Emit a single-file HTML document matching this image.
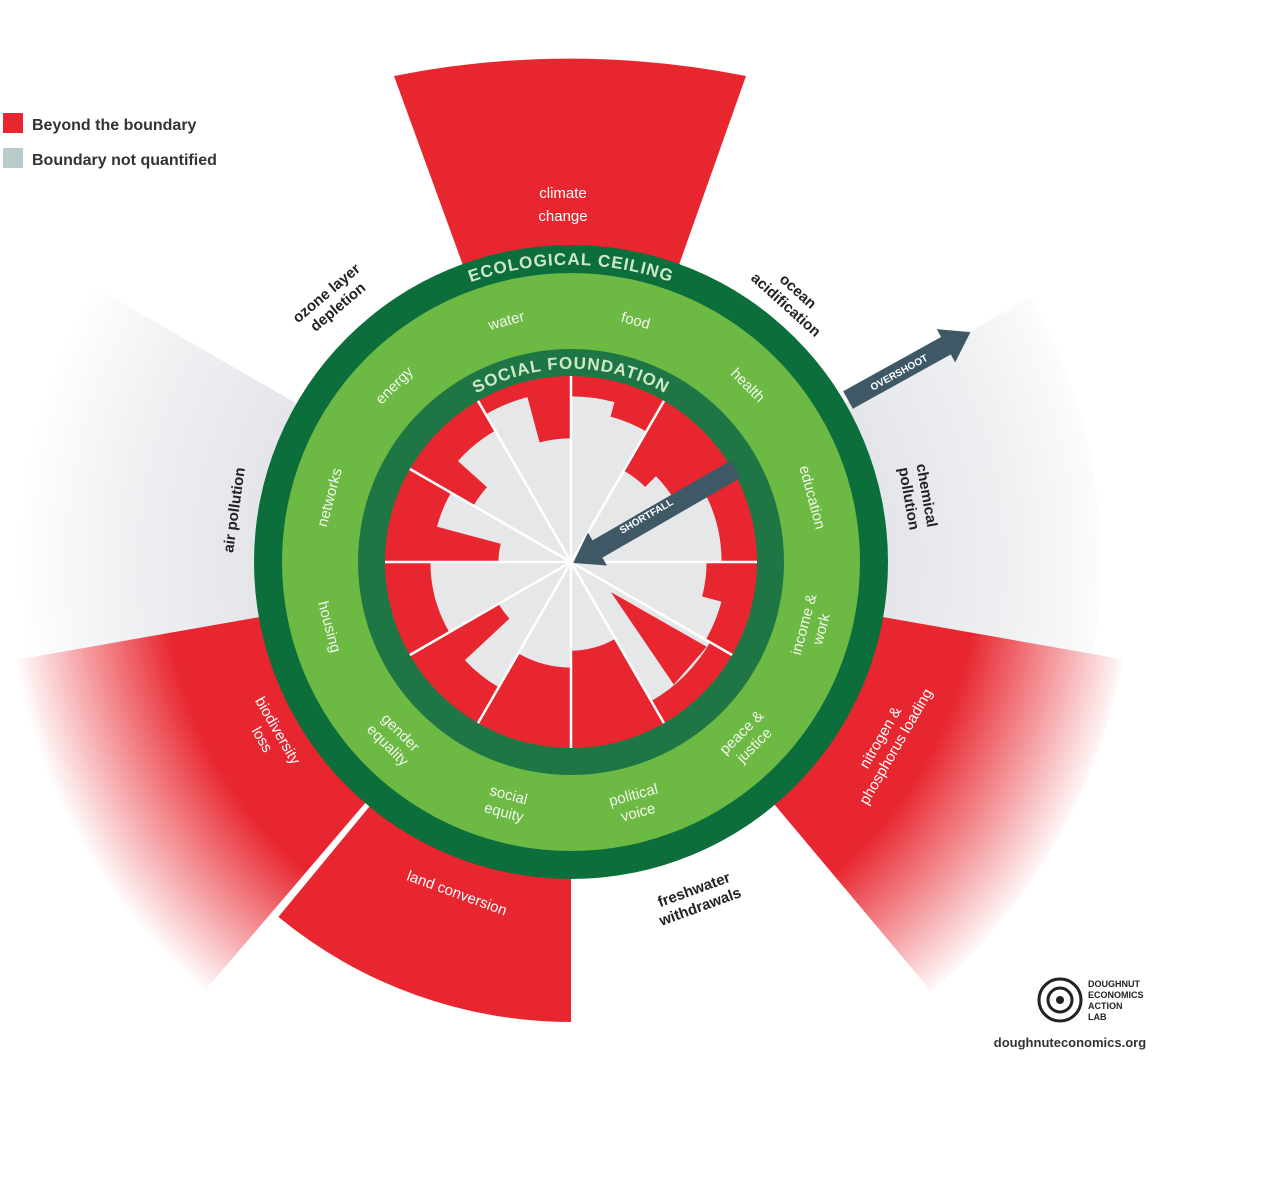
<!DOCTYPE html>
<html><head><meta charset="utf-8"><style>
html,body{margin:0;padding:0;background:#fff}
svg{display:block}
text{font-family:"Liberation Sans",sans-serif}
</style></head><body>
<svg id="s" width="1265" height="1196" viewBox="0 0 1265 1196" xmlns="http://www.w3.org/2000/svg">
<defs>
<radialGradient id="gr" gradientUnits="userSpaceOnUse" cx="571" cy="562" r="565">
<stop offset="0.72" stop-color="#e8262f"/><stop offset="1" stop-color="#e8262f" stop-opacity="0"/></radialGradient>
<radialGradient id="gg" gradientUnits="userSpaceOnUse" cx="571" cy="562" r="555">
<stop offset="0.58" stop-color="#e4e6ea"/><stop offset="0.8" stop-color="#eef0f2"/><stop offset="1" stop-color="#ffffff"/></radialGradient>
<path id="ec" d="M 314 413 A 297 297 0 0 1 828 413"/>
<path id="sf" d="M 404 465 A 193 193 0 0 1 738 465"/>
</defs>
<g id="outer"></g>
<circle cx="571" cy="562" r="317" fill="#0b6e3b"/>
<circle cx="571" cy="562" r="289" fill="#6cb944"/>
<circle cx="571" cy="562" r="213" fill="#1f7645"/>
<circle cx="571" cy="562" r="186" fill="#e8262f"/>
<g id="inner"></g>
<text font-size="17" font-weight="bold" fill="#cfe8c8" letter-spacing="1"><textPath href="#ec" startOffset="50%" text-anchor="middle">ECOLOGICAL CEILING</textPath></text>
<text font-size="17" font-weight="bold" fill="#cfe8c8" letter-spacing="1"><textPath href="#sf" startOffset="50%" text-anchor="middle">SOCIAL FOUNDATION</textPath></text>
<g id="labels" font-size="15" fill="#f2f7ee" text-anchor="middle"></g>
<g font-size="15" fill="#222" text-anchor="middle" font-weight="bold">
<text x="563" y="198" fill="#fff" font-weight="normal">climate</text><text x="563" y="221" fill="#fff" font-weight="normal">change</text>
<g transform="translate(332,300) rotate(-40)"><text y="-4">ozone layer</text><text y="14">depletion</text></g>
<g transform="translate(792,298) rotate(42)"><text y="-4">ocean</text><text y="14">acidification</text></g>
<g transform="translate(918,497) rotate(80)"><text y="-4">chemical</text><text y="14">pollution</text></g>
<g transform="translate(234,510) rotate(-82)"><text y="5">air pollution</text></g>
<g transform="translate(888,742) rotate(-60)" fill="#fff" font-weight="normal"><text y="-4">nitrogen &amp;</text><text y="14">phosphorus loading</text></g>
<g transform="translate(697,898) rotate(-20)"><text y="-4">freshwater</text><text y="14">withdrawals</text></g>
<g transform="translate(457,893) rotate(20)" fill="#fff" font-weight="normal"><text y="5">land conversion</text></g>
<g transform="translate(270,735) rotate(60)" fill="#fff" font-weight="normal"><text y="-4">biodiversity</text><text y="14">loss</text></g>
</g>
<g transform="translate(848,400) rotate(-29)" fill="#3f5866">
<rect x="0" y="-10" width="116" height="20"/><polygon points="112,-19 140,0 112,19"/>
<text x="58" y="4" font-size="10" fill="#fff" text-anchor="middle" font-weight="bold">OVERSHOOT</text></g>
<g transform="translate(736,469) rotate(150)" fill="#3f5866">
<rect x="0" y="-10" width="163" height="20"/><polygon points="160,-19 188,0 160,19"/></g>
<text x="0" y="0" transform="translate(648,519) rotate(-30)" font-size="10" fill="#fff" text-anchor="middle" font-weight="bold">SHORTFALL</text>
<rect x="3" y="113" width="20" height="20" fill="#e8262f"/>
<rect x="3" y="148" width="20" height="20" fill="#b9cccd"/>
<text x="32" y="130" font-size="16" fill="#333" font-weight="bold">Beyond the boundary</text>
<text x="32" y="165" font-size="16" fill="#333" font-weight="bold">Boundary not quantified</text>
<circle cx="1060" cy="1000" r="21" fill="none" stroke="#222" stroke-width="3"/>
<circle cx="1060" cy="1000" r="12" fill="none" stroke="#222" stroke-width="3"/>
<circle cx="1060" cy="1000" r="4" fill="#222"/>
<g font-size="9" font-weight="bold" fill="#222"><text x="1088" y="987">DOUGHNUT</text><text x="1088" y="998">ECONOMICS</text><text x="1088" y="1009">ACTION</text><text x="1088" y="1020">LAB</text></g>
<text x="1070" y="1047" font-size="13" fill="#333" text-anchor="middle" font-weight="bold">doughnuteconomics.org</text>
</svg>
<script>
var cx=571,cy=562,NS="http://www.w3.org/2000/svg";
function p(a,r){var t=a*Math.PI/180;return (cx+r*Math.sin(t)).toFixed(1)+" "+(cy-r*Math.cos(t)).toFixed(1);}
function wedge(a1,a2,r0,r1){var l=(a2-a1)>180?1:0;
if(r0<=0)return "M "+cx+" "+cy+" L "+p(a1,r1)+" A "+r1+" "+r1+" 0 "+l+" 1 "+p(a2,r1)+" Z";
return "M "+p(a1,r0)+" L "+p(a1,r1)+" A "+r1+" "+r1+" 0 "+l+" 1 "+p(a2,r1)+" L "+p(a2,r0)+" A "+r0+" "+r0+" 0 "+l+" 0 "+p(a1,r0)+" Z";}
function add(g,tag,at){var e=document.createElementNS(NS,tag);for(var k in at)e.setAttribute(k,at[k]);document.getElementById(g).appendChild(e);return e;}
// outer
add("outer","path",{d:"M "+p(-20,300)+" L 394 76 A 900 900 0 0 1 746 76 L "+p(20,300)+" Z",fill:"#e8262f"});
add("outer","path",{d:wedge(60,100,300,530),fill:"url(#gg)"});
add("outer","path",{d:wedge(100,140,300,560),fill:"url(#gr)"});
add("outer","path",{d:wedge(180,219.5,300,460),fill:"#e8262f"});
add("outer","path",{d:wedge(220.5,260,300,565),fill:"url(#gr)"});
add("outer","path",{d:wedge(260,300,300,550),fill:"url(#gg)"});
// inner
var segs=[[0,15,165],[15,30,150],[30,45,105],[45,60,120],[60,90,150],[90,105,135],[105,120,155],[120,150,160],[150,180,88],[180,210,105],[210,227,144],[227,240,83],[240,270,140],[270,285,72],[285,300,138],[300,312,112],[312,330,151],[330,345,170],[345,360,123]];
segs.forEach(function(s){add("inner","path",{d:wedge(s[0],s[1],0,s[2]),fill:"#e6e7e9",stroke:"#e6e7e9","stroke-width":1.2,"stroke-linejoin":"round"});});
add("inner","path",{d:"M "+p(127,50)+" L "+p(122,160)+" L "+p(140,160)+" Z",fill:"#e8262f"});
for(var a=0;a<360;a+=30){if(a==60)continue;var q=p(a,186).split(" ");add("inner","line",{x1:cx,y1:cy,x2:q[0],y2:q[1],stroke:"#fff","stroke-width":2.5});}
// labels
var L=[[15,["food"]],[45,["health"]],[75,["education"]],[105,["income &","work"]],[135,["peace &","justice"]],[165,["political","voice"]],[195,["social","equity"]],[225,["gender","equality"]],[255,["housing"]],[285,["networks"]],[315,["energy"]],[345,["water"]]];
L.forEach(function(l){var a=l[0],r=250,top=(a<90||a>270);
var pt=p(a,r).split(" ");var rot=top?a:a-180;
var g=add("labels","g",{transform:"translate("+pt[0]+","+pt[1]+") rotate("+rot+")"});
var n=l[1].length;
l[1].forEach(function(t,i){var y=(n==1?5:(i==0?-4:14));var e=document.createElementNS(NS,"text");e.setAttribute("y",y);e.textContent=t;g.appendChild(e);});
});
</script>
</body></html>
